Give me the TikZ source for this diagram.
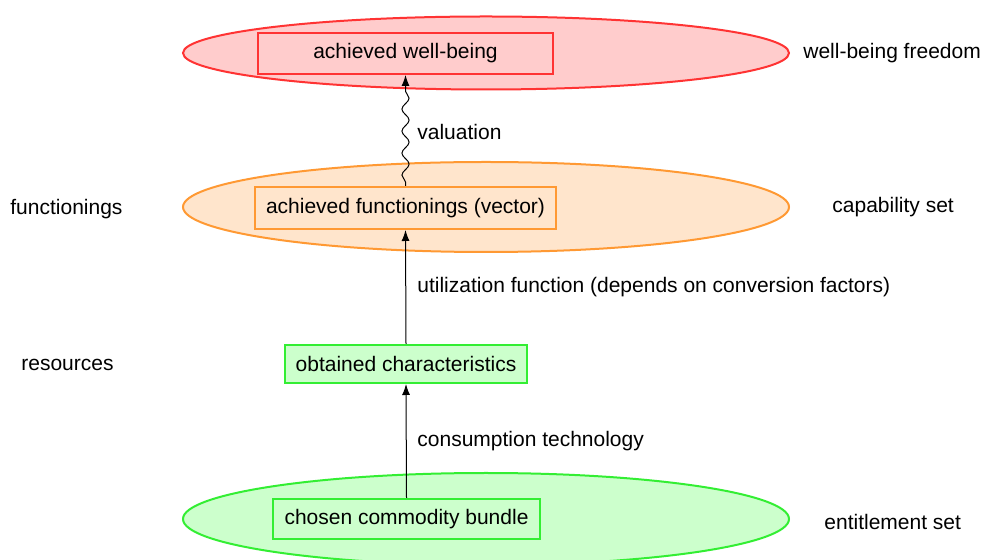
\documentclass[tikz,border=0pt]{standalone}
\usepackage{fontspec}
\setmainfont{Liberation Sans}
\usetikzlibrary{shapes.geometric,arrows.meta,decorations.pathmorphing}
\definecolor{redfill}{RGB}{255,204,204}
\definecolor{redline}{RGB}{255,51,51}
\definecolor{orfill}{RGB}{255,229,204}
\definecolor{orline}{RGB}{255,153,51}
\definecolor{grfill}{RGB}{204,255,204}
\definecolor{grline}{RGB}{51,238,51}
\tikzset{
  set/.style={ellipse, line width=1pt, inner sep=0pt, minimum width=303pt},
  box/.style={rectangle, line width=1pt, inner sep=0pt},
  lbl/.style={anchor=west, inner sep=0pt},
  arr/.style={-{Latex[length=5.5pt,width=4pt]}, line width=0.5pt},
  wavy/.style={arr, decorate, decoration={snake, amplitude=1.8pt, segment length=11pt, post length=6pt, pre length=2pt}}
}
\begin{document}
\begin{tikzpicture}[x=0.5pt,y=-0.5pt,font=\fontsize{10.5}{12.6}\selectfont]
\useasboundingbox (0,0) rectangle (985,560);
\begin{scope}
\clip (0,0) rectangle (985,560);
\node[set, draw=redline, fill=redfill, minimum height=36.5pt] (wbf) at (486,53) {};
\node[set, draw=orline, fill=orfill, minimum height=45pt] (cap) at (486,207) {};
\node[set, draw=grline, fill=grfill, minimum height=46pt] (ent) at (486,519) {};
\end{scope}
\node[box, draw=redline, fill=redfill, minimum width=147.5pt, minimum height=20.5pt] (awb) at (405.5,53.5) {achieved well-being};
\node[box, draw=orline, fill=orfill, minimum width=150.5pt, minimum height=21pt] (afv) at (405.5,208) {achieved functionings (vector)};
\node[box, draw=grline, fill=grfill, minimum width=121pt, minimum height=19pt] (obc) at (406,364) {obtained characteristics};
\node[box, draw=grline, fill=grfill, minimum width=133.5pt, minimum height=20pt] (ccb) at (406.5,519) {chosen commodity bundle};
\draw[wavy] (afv.north) -- (awb.south);
\draw[arr] (obc.north) -- (afv.south);
\draw[arr] (ccb.north) -- (obc.south);
\node[lbl] (vl) at (417,132.5) {valuation};
\node[lbl] (ul) at (417,287.5) {utilization function (depends on conversion factors)};
\node[lbl] (cl) at (417,441.5) {consumption technology};
\node[lbl] (wbfl) at (803,53.5) {well-being freedom};
\node[lbl] (capl) at (832,207.5) {capability set};
\node[lbl] (entl) at (824,521.5) {entitlement set};
\node[lbl] (funl) at (10,209.5) {functionings};
\node[lbl] (resl) at (21,364.5) {resources};
\end{tikzpicture}
\end{document}
